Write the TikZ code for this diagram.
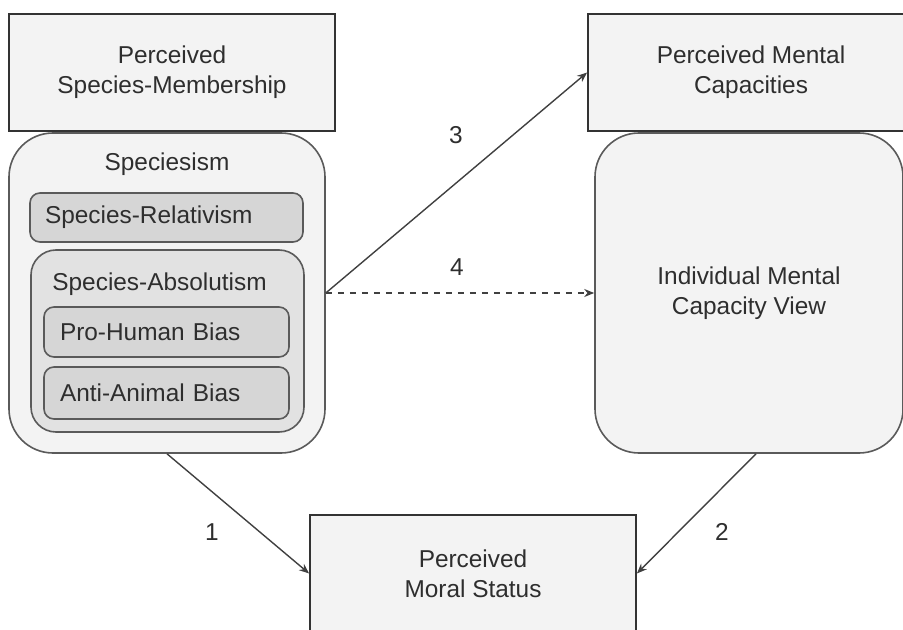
\documentclass[tikz,border=0pt]{standalone}
\usepackage{fontspec}
\setmainfont{Liberation Sans}
\usetikzlibrary{arrows.meta}
\definecolor{boxlight}{HTML}{F3F3F3}
\definecolor{boxmid}{HTML}{E2E2E2}
\definecolor{boxdark}{HTML}{D6D6D6}
\definecolor{edge}{HTML}{5A5A5A}
\definecolor{ink}{HTML}{2E2E2E}

\begin{document}
\begin{tikzpicture}[x=0.5pt, y=-0.5pt, font=\fontsize{12.2}{15}\selectfont, text=ink,
    square/.style={draw=black!80, line width=0.9pt, fill=boxlight, align=center, minimum width=163pt, minimum height=58.5pt},
    bigbox/.style={draw=edge, line width=0.8pt, fill=boxlight, rounded corners=22pt, minimum width=#1, minimum height=160pt},
    smallbox/.style={draw=edge, line width=0.8pt, fill=boxdark, rounded corners=5pt, align=left, inner xsep=7.5pt, text width=#1},
    link/.style={draw=black!75, line width=0.7pt, -{Stealth[length=5pt, width=4pt]}}]
    \useasboundingbox (0,0) rectangle (903,630);
    \clip (0,0) rectangle (903,630);
    \node[square] (memb) at (172,72.5) {Perceived\\Species-Membership};
    \node[square] (ment) at (751,72.5) {Perceived Mental\\Capacities};
    \node[square] (moral) at (473,573.5) {Perceived\\Moral Status};
    \node[bigbox=158pt] (spec) at (167,293) {};
    \node (spectitle) at (167,164) {Speciesism};
    \node[smallbox=121.5pt, minimum height=24.5pt] (rel) at (166.5,217.5) {Species-Relativism};
    \node[draw=edge, line width=0.8pt, fill=boxmid, rounded corners=12.5pt, minimum width=136.5pt, minimum height=91pt] (abs) at (167.5,341) {};
    \node[anchor=west, inner sep=0pt] (abstitle) at (52,284) {Species-Absolutism};
    \node[smallbox=106.5pt, inner xsep=8pt, minimum height=25pt] (pro) at (166.5,332) {Pro-Human Bias};
    \node[smallbox=106.5pt, inner xsep=8pt, minimum height=26pt] (anti) at (166.5,393) {Anti-Animal Bias};
    \node[bigbox=154pt, align=center] (imcv) at (749,293) {Individual Mental\\Capacity View};
    \draw[link] (spec.east) -- (ment.west);
    \draw[link, dashed] (spec.east) -- (imcv.west);
    \draw[link] (spec.south) -- (moral.west);
    \draw[link] ([xshift=3.5pt]imcv.south) -- (moral.east);
    \node (three) at (456,135) {3};
    \node (four) at (457,267) {4};
    \node (one) at (212,532) {1};
    \node (two) at (722,532) {2};
\end{tikzpicture}
\end{document}
